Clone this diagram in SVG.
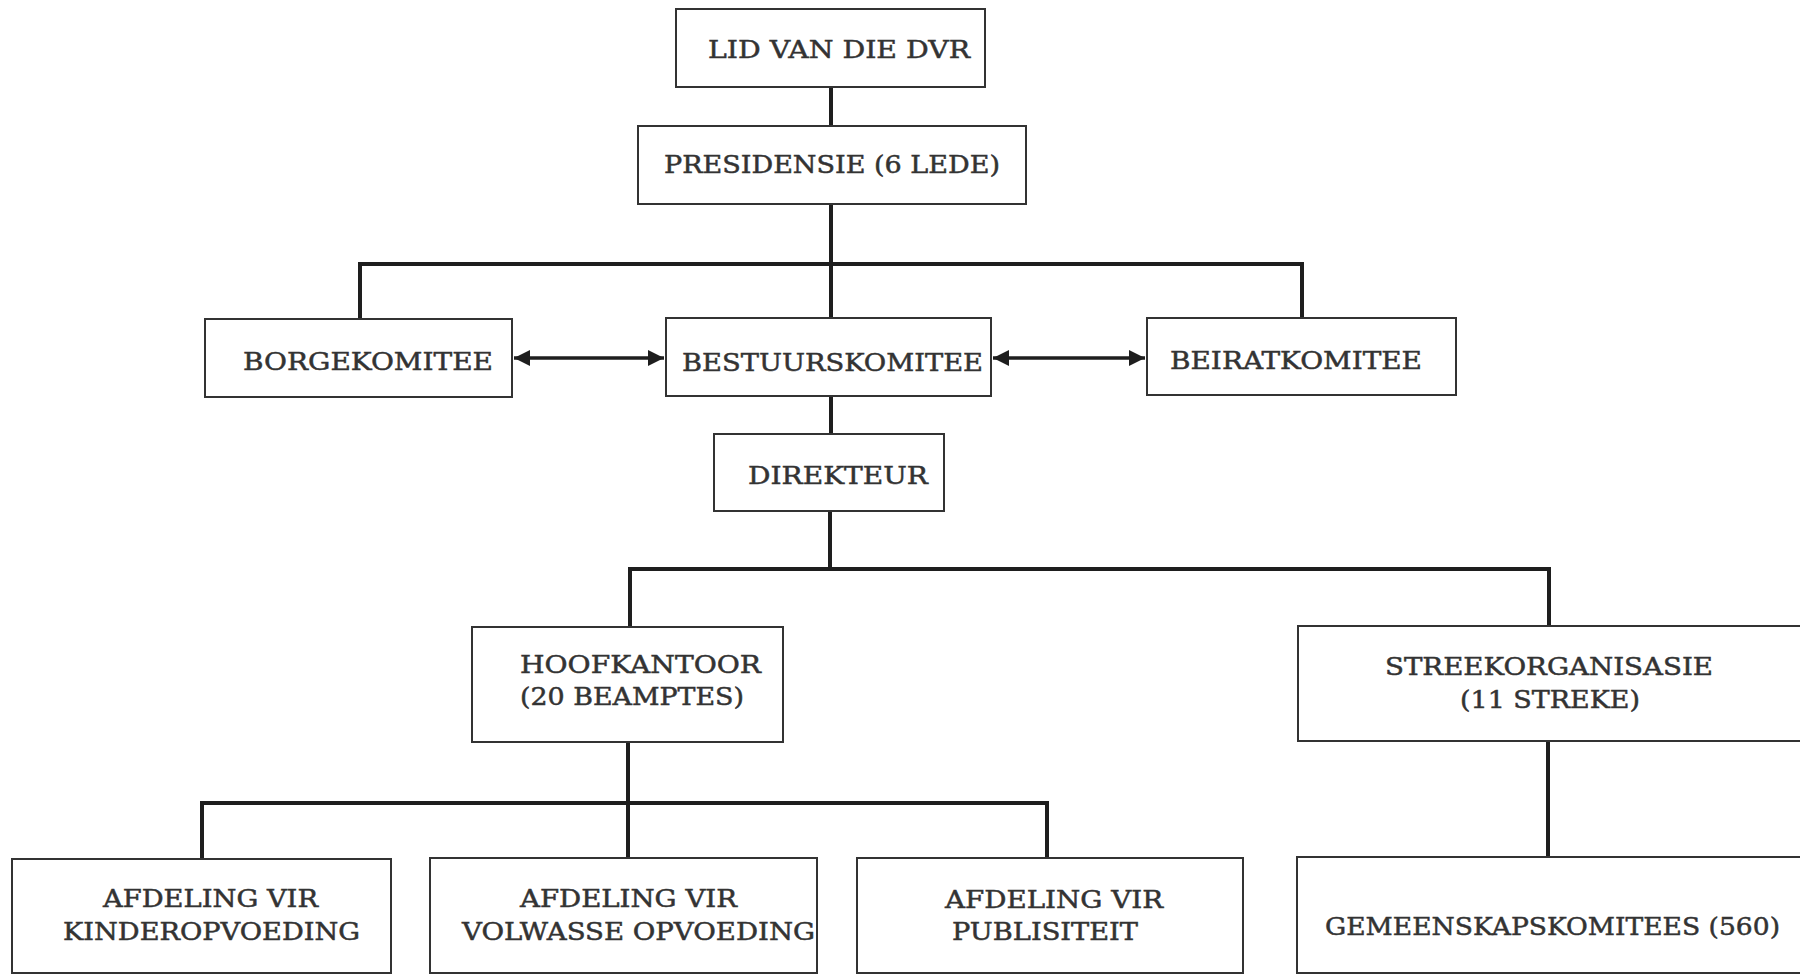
<svg xmlns="http://www.w3.org/2000/svg" width="1800" height="975" viewBox="0 0 1800 975">
<style>
.box{fill:#ffffff;stroke:#333333;stroke-width:2}
.lbl{font-family:"DejaVu Serif","Liberation Serif",serif;font-size:25px;fill:#333333;stroke:#333333;stroke-width:0.5}
.lbl2{font-family:"DejaVu Serif","Liberation Serif",serif;font-size:24px;fill:#333333;stroke:#333333;stroke-width:0.5}
.con{fill:none;stroke:#1e1e1e;stroke-width:4;stroke-linecap:square}
.arr{fill:none;stroke:#1e1e1e;stroke-width:3.5}
</style>
<defs>
<marker id="ah" markerUnits="userSpaceOnUse" markerWidth="18" markerHeight="18" refX="16" refY="8" orient="auto-start-reverse" viewBox="0 0 18 16">
<path d="M0,0 L16,8 L0,16 z" fill="#1e1e1e"/>
</marker>
</defs>
<rect width="1800" height="975" fill="#ffffff"/>
<g id="connectors">
<path class="con" d="M831,87 V126"/>
<path class="con" d="M831,204 V318"/>
<path class="con" d="M360,319 V264 H1302 V318"/>
<path class="con" d="M831,396 V434"/>
<path class="con" d="M830,511 V569"/>
<path class="con" d="M630,627 V569 H1549 V626"/>
<path class="con" d="M628,742 V858"/>
<path class="con" d="M202,859 V803 H1047 V858"/>
<path class="con" d="M1548,741 V857"/>
<path class="arr" d="M514,358 H664" marker-start="url(#ah)" marker-end="url(#ah)"/>
<path class="arr" d="M993,358 H1145" marker-start="url(#ah)" marker-end="url(#ah)"/>
</g>
<g id="lid">
<rect class="box" x="676" y="9" width="309" height="78"/>
<text class="lbl" x="708" y="58" textLength="262" lengthAdjust="spacingAndGlyphs">LID VAN DIE DVR</text>
</g>
<g id="presidensie">
<rect class="box" x="638" y="126" width="388" height="78"/>
<text class="lbl" x="664" y="173" textLength="336" lengthAdjust="spacingAndGlyphs">PRESIDENSIE (6 LEDE)</text>
</g>
<g id="borgekomitee">
<rect class="box" x="205" y="319" width="307" height="78"/>
<text class="lbl" x="243" y="370" textLength="250" lengthAdjust="spacingAndGlyphs">BORGEKOMITEE</text>
</g>
<g id="bestuurskomitee">
<rect class="box" x="666" y="318" width="325" height="78"/>
<text class="lbl" x="682" y="371" textLength="301" lengthAdjust="spacingAndGlyphs">BESTUURSKOMITEE</text>
</g>
<g id="beiratkomitee">
<rect class="box" x="1147" y="318" width="309" height="77"/>
<text class="lbl" x="1170" y="369" textLength="252" lengthAdjust="spacingAndGlyphs">BEIRATKOMITEE</text>
</g>
<g id="direkteur">
<rect class="box" x="714" y="434" width="230" height="77"/>
<text class="lbl" x="748" y="484" textLength="180" lengthAdjust="spacingAndGlyphs">DIREKTEUR</text>
</g>
<g id="hoofkantoor">
<rect class="box" x="472" y="627" width="311" height="115"/>
<text class="lbl" x="520" y="673" textLength="241" lengthAdjust="spacingAndGlyphs">HOOFKANTOOR</text>
<text class="lbl" x="520" y="705" textLength="224" lengthAdjust="spacingAndGlyphs">(20 BEAMPTES)</text>
</g>
<g id="streekorganisasie">
<rect class="box" x="1298" y="626" width="520" height="115"/>
<text class="lbl" x="1385" y="675" textLength="328" lengthAdjust="spacingAndGlyphs">STREEKORGANISASIE</text>
<text class="lbl" x="1460" y="708" textLength="180" lengthAdjust="spacingAndGlyphs">(11 STREKE)</text>
</g>
<g id="kinderopvoeding">
<rect class="box" x="12" y="859" width="379" height="114"/>
<text class="lbl2" x="103" y="907" textLength="215" lengthAdjust="spacingAndGlyphs">AFDELING VIR</text>
<text class="lbl2" x="63" y="940" textLength="297" lengthAdjust="spacingAndGlyphs">KINDEROPVOEDING</text>
</g>
<g id="volwasse">
<rect class="box" x="430" y="858" width="387" height="115"/>
<text class="lbl2" x="520" y="907" textLength="217" lengthAdjust="spacingAndGlyphs">AFDELING VIR</text>
<text class="lbl2" x="462" y="940" textLength="353" lengthAdjust="spacingAndGlyphs">VOLWASSE OPVOEDING</text>
</g>
<g id="publisiteit">
<rect class="box" x="857" y="858" width="386" height="115"/>
<text class="lbl2" x="945" y="908" textLength="218" lengthAdjust="spacingAndGlyphs">AFDELING VIR</text>
<text class="lbl2" x="952" y="940" textLength="186" lengthAdjust="spacingAndGlyphs">PUBLISITEIT</text>
</g>
<g id="gemeenskapskomitees">
<rect class="box" x="1297" y="857" width="520" height="116"/>
<text class="lbl" x="1325" y="935" textLength="455" lengthAdjust="spacingAndGlyphs">GEMEENSKAPSKOMITEES (560)</text>
</g>
</svg>
